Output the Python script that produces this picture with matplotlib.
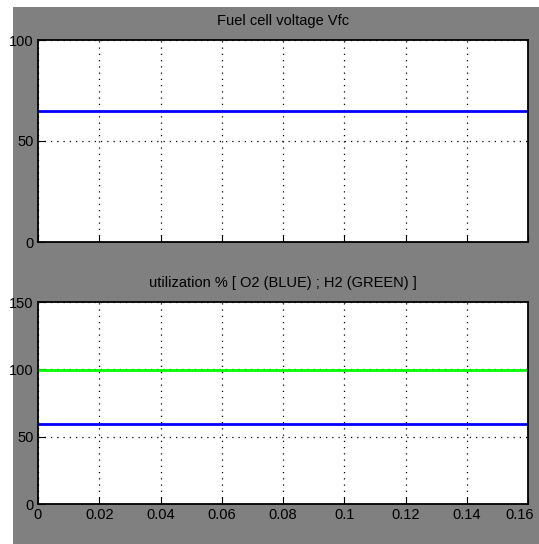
import matplotlib
matplotlib.use('Agg')
import matplotlib.pyplot as plt
from matplotlib.patches import Rectangle
from matplotlib.transforms import ScaledTranslation

# simulation output (constant over the run)
t = [0.0, 0.16]
vfc = [65.0, 65.0]
util_o2 = [59.3, 59.3]
util_h2 = [99.56, 99.56]

xticks = [0, 0.02, 0.04, 0.06, 0.08, 0.1, 0.12, 0.14, 0.16]
xlabels = ['0', '0.02', '0.04', '0.06', '0.08', '0.1', '0.12', '0.14', '0.16']
yticks_v = [0, 50, 100]
yticks_u = [0, 50, 100, 150]

plt.rcParams['font.family'] = ['Liberation Sans Narrow', 'Liberation Sans', 'DejaVu Sans']
plt.rcParams['font.size'] = 10

fig = plt.figure(figsize=(5.39, 5.44), dpi=100, facecolor='white')
# scope window background, kept behind the axes
fig.patches.append(Rectangle((13 / 539, 0), 1 - 13 / 539, 1 - 7 / 544,
                             transform=fig.transFigure, facecolor='#808080',
                             edgecolor='none', zorder=-10))

ax1 = fig.add_axes([38 / 539, 1 - 242 / 544, 490 / 539, 202 / 544])
ax2 = fig.add_axes([38 / 539, 1 - 504 / 544, 490 / 539, 202 / 544])


def style(ax, yt, ylim):
    ax.set_facecolor('white')
    ax.set_xlim(0, 0.16)
    ax.set_ylim(*ylim)
    ax.set_xticks(xticks)
    ax.set_yticks(yt)
    ax.set_yticklabels([str(v) for v in yt])
    ax.grid(True, color='black', linestyle=(0, (1, 4)), linewidth=0.9)
    ax.tick_params(direction='in', length=5, colors='black', labelsize=10.5,
                   top=False, right=False, pad=3)
    for s in ax.spines.values():
        s.set_color('black')
        s.set_linewidth(1.3)


style(ax1, yticks_v, (0, 100))
ax1.plot(t, vfc, color='#0000ff', linewidth=2)
ax1.set_xticklabels([])
ax1.set_title('Fuel cell voltage Vfc', fontsize=10.5, pad=11)

style(ax2, yticks_u, (0, 150))
ax2.plot(t, util_h2, color='#00ff00', linewidth=2)
ax2.plot(t, util_o2, color='#0000ff', linewidth=2)
ax2.set_xticklabels(xlabels)
ax2.set_title('utilization % [ O2 (BLUE) ; H2 (GREEN) ]', fontsize=10.5, pad=11)

# keep the last x label inside the window
last = ax2.get_xticklabels()[-1]
last.set_transform(last.get_transform() + ScaledTranslation(-6 / 72, 0, fig.dpi_scale_trans))

fig.savefig('out.png', dpi=100, facecolor=fig.get_facecolor())
